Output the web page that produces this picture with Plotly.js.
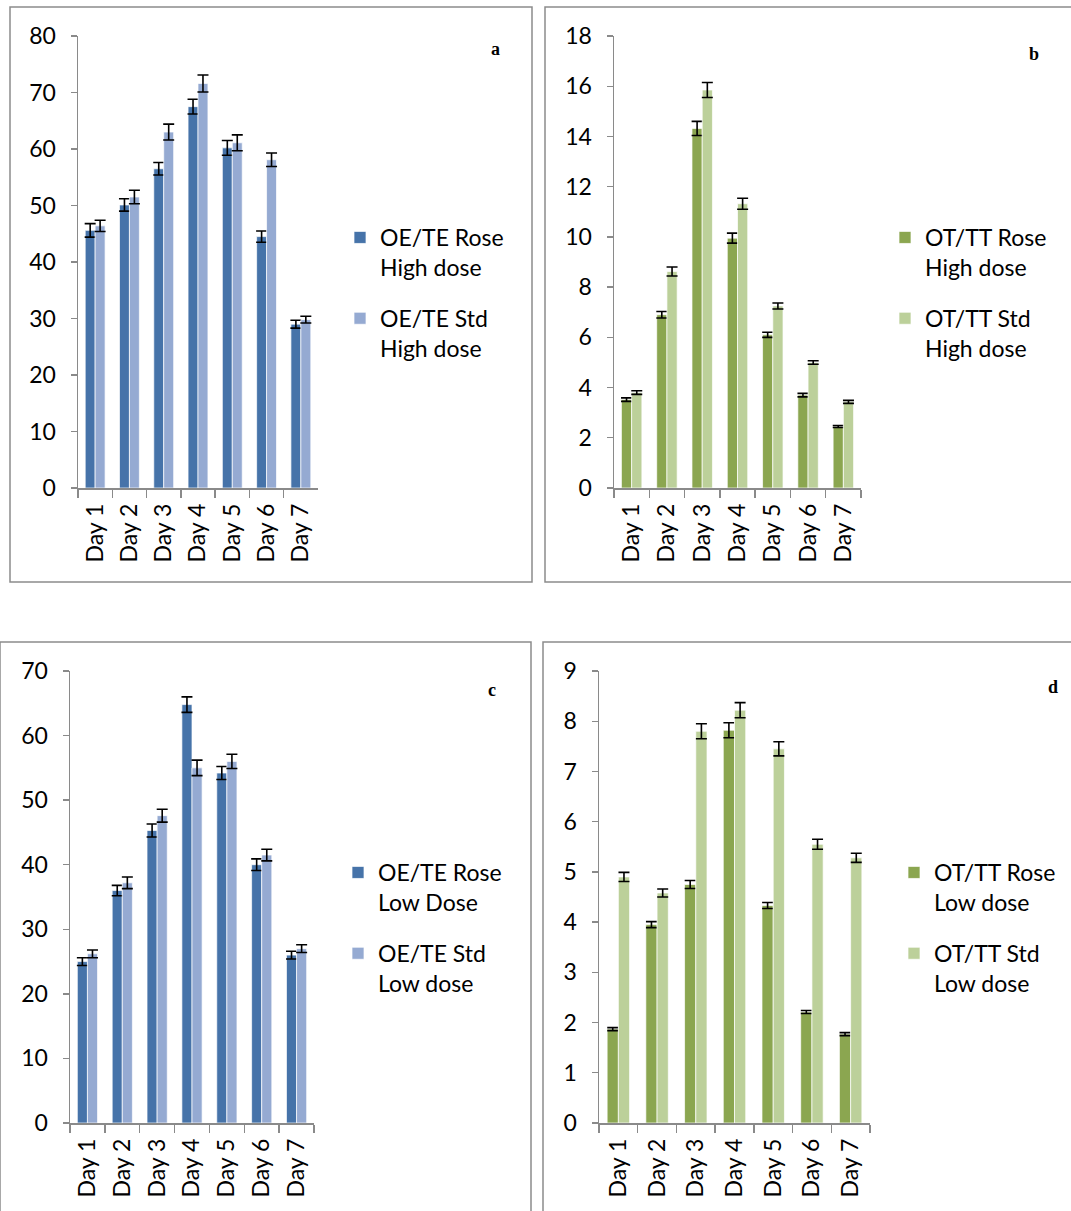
<!DOCTYPE html>
<html>
<head>
<meta charset="utf-8">
<script src="https://cdn.plot.ly/plotly-3.0.1.min.js"></script>
<style>html,body{margin:0;padding:0;background:#fff;}#chart{width:1071px;height:1211px;}</style>
</head>
<body>
<div id="chart"></div>
<script>
const days = ["Day 1","Day 2","Day 3","Day 4","Day 5","Day 6","Day 7"];

// Panel a: OE/TE high dose
const aRose = [45.6, 50.1, 56.5, 67.5, 60.2, 44.5, 29.0];
const aRoseErr = [1.2, 1.1, 1.1, 1.3, 1.3, 1.0, 0.7];
const aStd = [46.4, 51.5, 63.0, 71.6, 61.1, 58.1, 29.8];
const aStdErr = [1.0, 1.2, 1.4, 1.5, 1.4, 1.2, 0.6];

// Panel b: OT/TT high dose
const bRose = [3.52, 6.9, 14.32, 9.95, 6.1, 3.7, 2.45];
const bRoseErr = [0.07, 0.13, 0.28, 0.2, 0.1, 0.07, 0.04];
const bStd = [3.8, 8.62, 15.85, 11.32, 7.25, 5.0, 3.43];
const bStdErr = [0.07, 0.18, 0.3, 0.22, 0.12, 0.07, 0.06];

// Panel c: OE/TE low dose
const cRose = [25.0, 36.0, 45.3, 64.8, 54.2, 40.0, 26.0];
const cRoseErr = [0.6, 0.8, 1.0, 1.2, 1.0, 0.9, 0.6];
const cStd = [26.2, 37.2, 47.6, 55.0, 56.0, 41.5, 27.0];
const cStdErr = [0.6, 0.9, 1.0, 1.2, 1.1, 0.9, 0.6];

// Panel d: OT/TT low dose
const dRose = [1.87, 3.95, 4.75, 7.82, 4.33, 2.21, 1.77];
const dRoseErr = [0.03, 0.06, 0.08, 0.15, 0.06, 0.03, 0.03];
const dStd = [4.9, 4.58, 7.8, 8.22, 7.45, 5.55, 5.28];
const dStdErr = [0.09, 0.08, 0.15, 0.15, 0.14, 0.1, 0.09];

const names = {
  a: ["OE/TE Rose<br>High dose", "OE/TE Std<br>High dose"],
  b: ["OT/TT Rose<br>High dose", "OT/TT Std<br>High dose"],
  c: ["OE/TE Rose<br>Low Dose", "OE/TE Std<br>Low dose"],
  d: ["OT/TT Rose<br>Low dose", "OT/TT Std<br>Low dose"]
};

const blueDark = "#4673A9", blueLight = "#95AAD2";
const greenDark = "#8BA650", greenLight = "#BCD09A";

function bar(y, err, name, color, xa, ya, leg, grp) {
  return {
    type: "bar", x: days, y: y, name: name, xaxis: xa, yaxis: ya, legend: leg, legendgroup: grp,
    marker: {color: color, line: {color: "rgba(255,255,255,0.7)", width: 1}},
    error_y: {type: "data", array: err, visible: true, color: "#000", thickness: 1.6, width: 5.5},
    hoverinfo: "skip"
  };
}

const data = [
  bar(aRose, aRoseErr, names.a[0], blueDark, "x", "y", "legend", "a1"),
  bar(aStd, aStdErr, names.a[1], blueLight, "x", "y", "legend", "a2"),
  bar(bRose, bRoseErr, names.b[0], greenDark, "x2", "y2", "legend2", "b1"),
  bar(bStd, bStdErr, names.b[1], greenLight, "x2", "y2", "legend2", "b2"),
  bar(cRose, cRoseErr, names.c[0], blueDark, "x3", "y3", "legend3", "c1"),
  bar(cStd, cStdErr, names.c[1], blueLight, "x3", "y3", "legend3", "c2"),
  bar(dRose, dRoseErr, names.d[0], greenDark, "x4", "y4", "legend4", "d1"),
  bar(dStd, dStdErr, names.d[1], greenLight, "x4", "y4", "legend4", "d2")
];

const W = 1071, H = 1211;
const fx = p => p / W;
const fy = p => 1 - p / H;
const FONT = "Lato, 'Noto Sans', sans-serif";
const axisGray = "#8A8A8A";

function xax(x0, x1, y) {
  return {
    domain: [fx(x0), fx(x1)], anchor: y, type: "category", range: [-0.5, 6.5],
    showline: true, linecolor: axisGray, linewidth: 1.5,
    ticks: "outside", ticklen: 8, tickcolor: axisGray, tickwidth: 1.3,
    tickson: "boundaries", tickangle: -90, ticklabelstandoff: 5,
    tickfont: {family: FONT, size: 23, color: "#000"},
    showgrid: false, zeroline: false, fixedrange: true
  };
}
function yax(y0, y1, x, max, dt) {
  return {
    domain: [fy(y1), fy(y0)], anchor: x, range: [0, max], dtick: dt,
    showline: true, linecolor: axisGray, linewidth: 1.5,
    ticks: "outside", ticklen: 6, tickcolor: axisGray, tickwidth: 1.3,
    ticklabelstandoff: 10,
    tickfont: {family: FONT, size: 23, color: "#000"},
    showgrid: false, zeroline: false, fixedrange: true
  };
}
function leg(xp, yp) {
  return {
    x: fx(xp), y: fy(yp), xanchor: "left", yanchor: "top",
    font: {family: FONT, size: 23, color: "#000"},
    valign: "top", tracegroupgap: 18, traceorder: "grouped",
    bgcolor: "rgba(0,0,0,0)"
  };
}
function box(x0, y0, x1, y1) {
  return {type: "rect", xref: "paper", yref: "paper", x0: fx(x0), x1: fx(x1), y0: fy(y1), y1: fy(y0),
          line: {color: "#8C8C8C", width: 1.5}, layer: "below"};
}
function letter(t, xp, yp) {
  return {text: "<b>" + t + "</b>", xref: "paper", yref: "paper", x: fx(xp), y: fy(yp),
          xanchor: "center", yanchor: "middle", showarrow: false,
          font: {family: "'Liberation Serif', serif", size: 18, color: "#000"}};
}

const layout = {
  width: W, height: H, margin: {l: 0, r: 0, t: 0, b: 0},
  paper_bgcolor: "#fff", plot_bgcolor: "rgba(0,0,0,0)",
  barmode: "group", bargap: 0.42, bargroupgap: 0,
  showlegend: true,
  xaxis: xax(78, 318, "y"), yaxis: yax(36, 488, "x", 80, 10),
  xaxis2: xax(614, 861, "y2"), yaxis2: yax(36, 488, "x2", 18, 2),
  xaxis3: xax(70, 314, "y3"), yaxis3: yax(671, 1123, "x3", 70, 10),
  xaxis4: xax(599, 870, "y4"), yaxis4: yax(671, 1123, "x4", 9, 1),
  legend: leg(340, 216),
  legend2: leg(885, 216),
  legend3: leg(338, 851),
  legend4: leg(894, 851),
  shapes: [box(10, 7, 532, 582), box(545, 7, 1075, 582), box(0, 642, 531, 1215), box(543, 642, 1075, 1215)],
  annotations: [letter("a", 495, 49), letter("b", 1034, 54), letter("c", 492, 690), letter("d", 1053, 687)]
};

Plotly.newPlot("chart", data, layout, {staticPlot: true, displayModeBar: false});
</script>
</body>
</html>
